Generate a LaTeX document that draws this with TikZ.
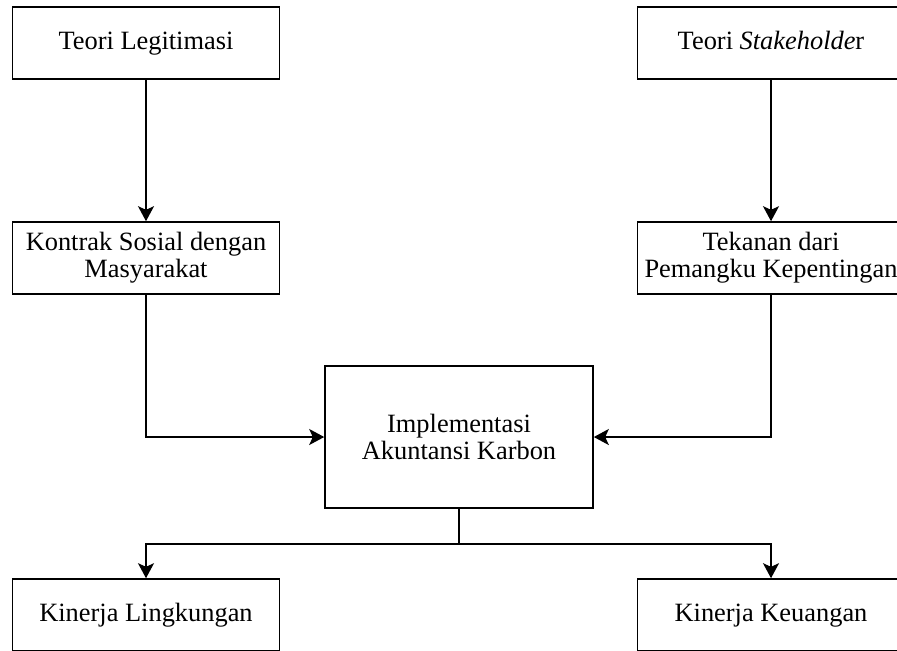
\documentclass[tikz,border=0pt]{standalone}
\usepackage{fontspec}
\setmainfont{Liberation Serif}
\usepackage{tikz}
\usetikzlibrary{arrows.meta}

\tikzset{
  kotak/.style={draw, line width=0.8pt, minimum width=133.5pt, minimum height=36pt,
    align=center, inner sep=2pt, font=\fontsize{13.2}{13.5}\selectfont},
  satubaris/.style={kotak, text height=9pt, text depth=2.8pt},
  panah/.style={line width=0.8pt, -{Stealth[length=7.5pt, width=8pt, inset=1.8pt]}},
  garis/.style={line width=0.8pt}
}

\begin{document}
\begin{tikzpicture}[x=0.5pt, y=-0.5pt]
			\useasboundingbox (0, 0) rectangle (897, 650);
			\clip (0, 0) rectangle (897, 650);

			\node[satubaris] (legitimasi) at (146, 43) {Teori Legitimasi};
			\node[satubaris] (stakeholder) at (771, 43) {Teori \textit{Stakeholde}r};
			\node[kotak] (kontrak) at (146, 258) {Kontrak Sosial dengan\\Masyarakat};
			\node[kotak] (tekanan) at (771, 258) {Tekanan dari\\Pemangku Kepentingan};
			\node[kotak, minimum width=134pt, minimum height=71pt] (implementasi) at (459, 437) {Implementasi\\Akuntansi Karbon};
			\node[satubaris] (lingkungan) at (146, 615) {Kinerja Lingkungan};
			\node[satubaris] (keuangan) at (771, 615) {Kinerja Keuangan};

			\coordinate (cabang) at (459, 544);

			\draw[panah](legitimasi)--(kontrak);
			\draw[panah](stakeholder)--(tekanan);
			\draw[panah](kontrak.south)|-(implementasi.west);
			\draw[panah](tekanan.south)|-(implementasi.east);

			\draw[garis](implementasi.south)--(cabang);
			\draw[panah](cabang)-|(lingkungan.north);
			\draw[panah](cabang)-|(keuangan.north);
		\end{tikzpicture}
\end{document}
